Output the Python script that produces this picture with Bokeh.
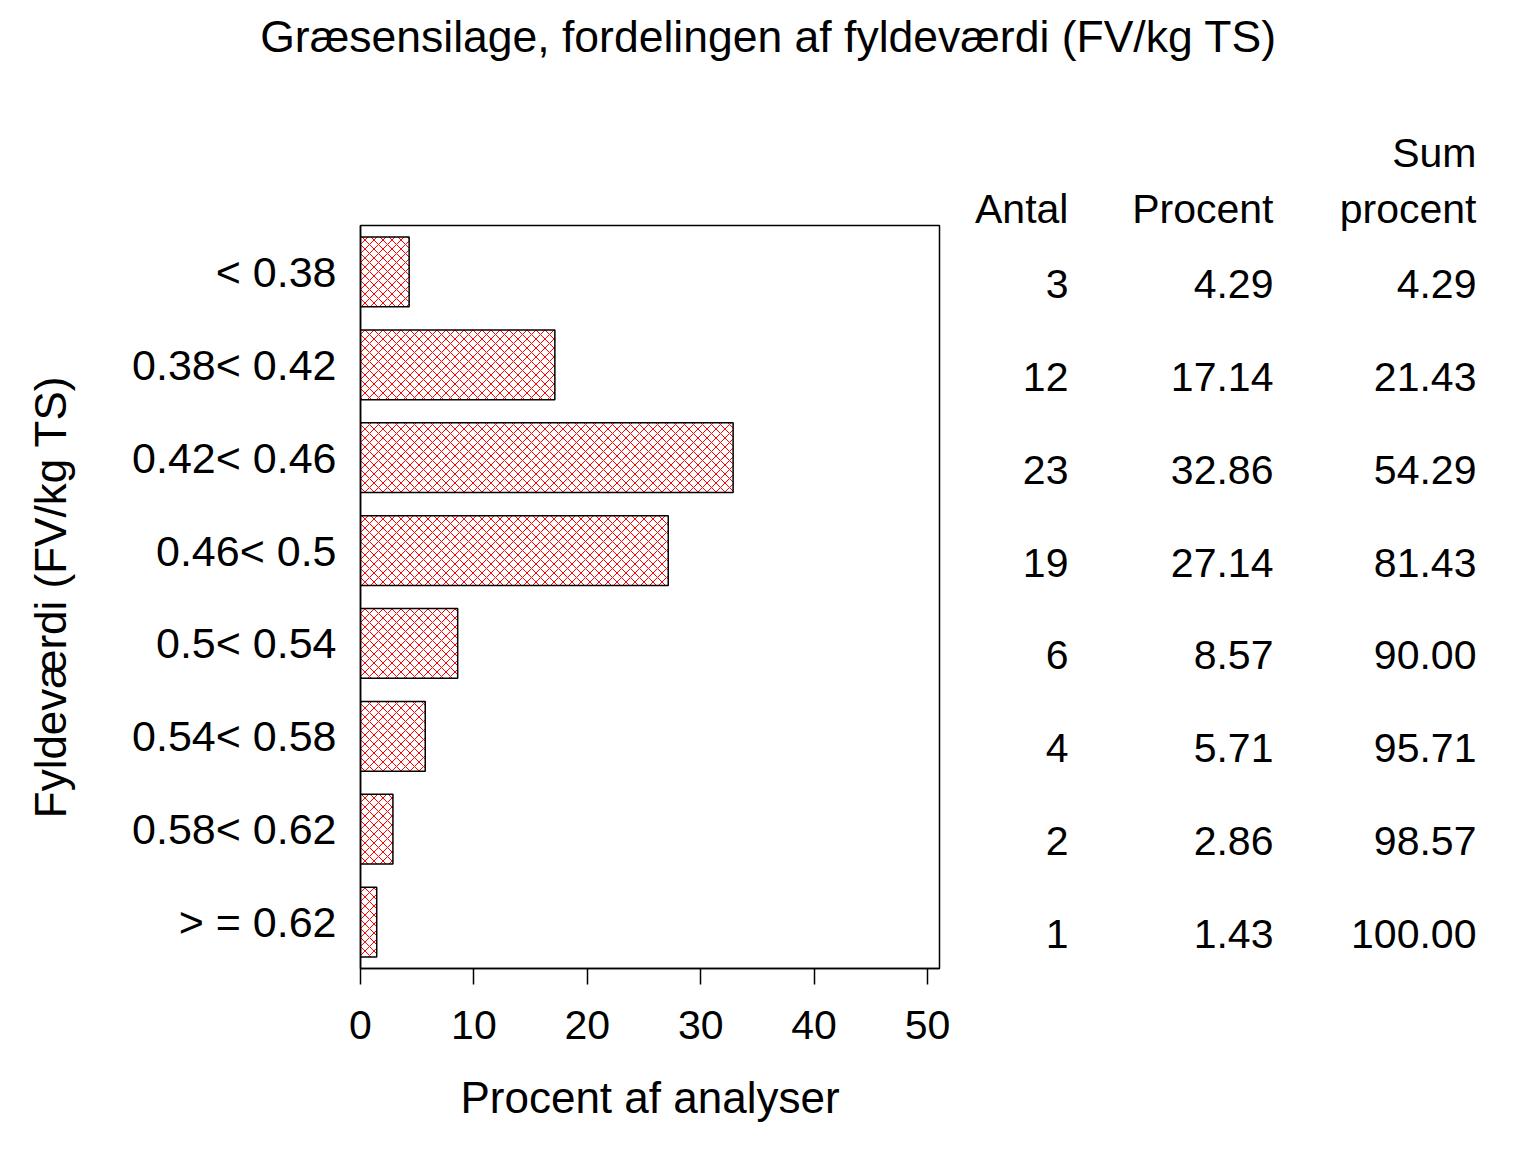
from bokeh.plotting import figure
from bokeh.layouts import column, row
from bokeh.models import ColumnDataSource, FactorRange, Range1d, FixedTicker
from bokeh.core.properties import value
from bokeh.embed import file_html
from bokeh.resources import INLINE

FONT = "Liberation Sans"

categories = ["< 0.38", "0.38< 0.42", "0.42< 0.46", "0.46< 0.5",
              "0.5< 0.54", "0.54< 0.58", "0.58< 0.62", "> = 0.62"]
antal = [3, 12, 23, 19, 6, 4, 2, 1]
procent = [4.29, 17.14, 32.86, 27.14, 8.57, 5.71, 2.86, 1.43]
sum_procent = [4.29, 21.43, 54.29, 81.43, 90.00, 95.71, 98.57, 100.00]
x_ticks = [0, 10, 20, 30, 40, 50]

title_text = "Græsensilage, fordelingen af fyldeværdi (FV/kg TS)"
x_label = "Procent af analyser"
y_label = "Fyldeværdi (FV/kg TS)"
headers = ["Antal", "Procent", "procent"]
header_top = ["Sum"]

# ---- layout geometry (pixels) ----
W, H = 1520, 1136
TOP_H = 100                      # height of the title strip
FRAME_L, FRAME_R = 360, 939      # bar panel frame, page x
FRAME_T, FRAME_B = 225, 968      # bar panel frame, page y
W1 = 960                         # width of the bar figure
X_MAX = 51.06
PX = (FRAME_R - FRAME_L) / X_MAX
BAND = (FRAME_B - FRAME_T) / len(categories)

# right edges of the table columns, expressed in the chart's x units
col_x = [62.43, 80.51, 98.41]
HDR = " "

n = len(categories)
src = ColumnDataSource(dict(
    cat=categories, pct=procent,
    antal=[str(a) for a in antal],
    pstr=["%.2f" % v for v in procent],
    sstr=["%.2f" % v for v in sum_procent],
    x1=[col_x[0]] * n, x2=[col_x[1]] * n, x3=[col_x[2]] * n,
))


def no_align(fig):
    try:
        fig.frame_align = False
    except Exception:
        pass


# ---------------- title strip ----------------
p0 = figure(width=W, height=TOP_H, x_range=Range1d(0, W),
            y_range=Range1d(TOP_H, 0), x_axis_location=None,
            y_axis_location=None, output_backend="svg",
            toolbar_location=None, min_border=0)
p0.outline_line_color = None
p0.grid.visible = False
p0.text(x=[768], y=[36], text=[title_text], text_align="center",
        text_baseline="alphabetic", text_font=value(FONT),
        text_font_size="44.5px", text_color="black")
no_align(p0)

# ---------------- bar chart ----------------
p1 = figure(width=W1, height=H - TOP_H,
            y_range=FactorRange(factors=list(reversed(categories))),
            x_range=Range1d(0, X_MAX),
            output_backend="svg", toolbar_location=None,
            min_border_left=FRAME_L, min_border_right=W1 - FRAME_R,
            min_border_top=FRAME_T - TOP_H, min_border_bottom=H - FRAME_B)
no_align(p1)

p1.hbar(y="cat", right="pct", left=0, height=0.75, source=src,
        fill_color="white", line_color="black", line_width=1.5,
        hatch_pattern="diagonal_cross", hatch_color="red",
        hatch_scale=9, hatch_weight=1)

p1.outline_line_color = "black"
p1.outline_line_width = 1.5
p1.grid.visible = False

xa = p1.xaxis[0]
xa.ticker = FixedTicker(ticks=x_ticks)
xa.minor_tick_line_color = None
xa.major_tick_in = 0
xa.major_tick_out = 16
xa.major_tick_line_width = 1.5
xa.axis_line_width = 1.5
xa.major_label_text_font = FONT
xa.major_label_text_font_size = "41px"
xa.major_label_text_color = "black"
xa.major_label_standoff = 26
xa.axis_label = x_label
xa.axis_label_text_font = FONT
xa.axis_label_text_font_size = "44px"
xa.axis_label_text_font_style = "normal"
xa.axis_label_text_color = "black"
xa.axis_label_standoff = 31

ya = p1.yaxis[0]
ya.major_tick_in = 0
ya.major_tick_out = 0
ya.minor_tick_line_color = None
ya.axis_line_width = 1.5
ya.major_label_text_font = FONT
ya.major_label_text_font_size = "43px"
ya.major_label_text_color = "black"
ya.major_label_standoff = 24
ya.axis_label = y_label
ya.axis_label_text_font = FONT
ya.axis_label_text_font_size = "44px"
ya.axis_label_text_font_style = "normal"
ya.axis_label_text_color = "black"
ya.axis_label_standoff = 54

# ---------------- table ----------------
T_TOP = FRAME_T - BAND           # one extra band above for the header
p2 = figure(width=W - W1, height=H - TOP_H,
            y_range=FactorRange(factors=list(reversed(categories)) + [HDR]),
            x_range=Range1d((W1 - FRAME_L) / PX, (W - FRAME_L) / PX),
            x_axis_location=None, y_axis_location=None,
            output_backend="svg", toolbar_location=None,
            min_border_left=0, min_border_right=0,
            min_border_top=int(round(T_TOP - TOP_H)),
            min_border_bottom=H - FRAME_B)
no_align(p2)
p2.outline_line_color = None
p2.grid.visible = False

TXT = dict(text_font=value(FONT), text_font_size="41px", text_color="black",
           text_align="right")
for xc, tc in [("x1", "antal"), ("x2", "pstr"), ("x3", "sstr")]:
    p2.text(x=xc, y="cat", text=tc, source=src, text_baseline="middle",
            y_offset=12, **TXT)

hsrc = ColumnDataSource(dict(x=col_x, y=[HDR] * 3, t=headers))
p2.text(x="x", y="y", text="t", source=hsrc, text_baseline="alphabetic",
        y_offset=30, **TXT)
hsrc2 = ColumnDataSource(dict(x=[col_x[2]], y=[HDR], t=header_top))
p2.text(x="x", y="y", text="t", source=hsrc2, text_baseline="alphabetic",
        y_offset=-26, **TXT)

layout = column(p0, row(p1, column(p2)))
open("out.html", "w").write(file_html(layout, INLINE))
